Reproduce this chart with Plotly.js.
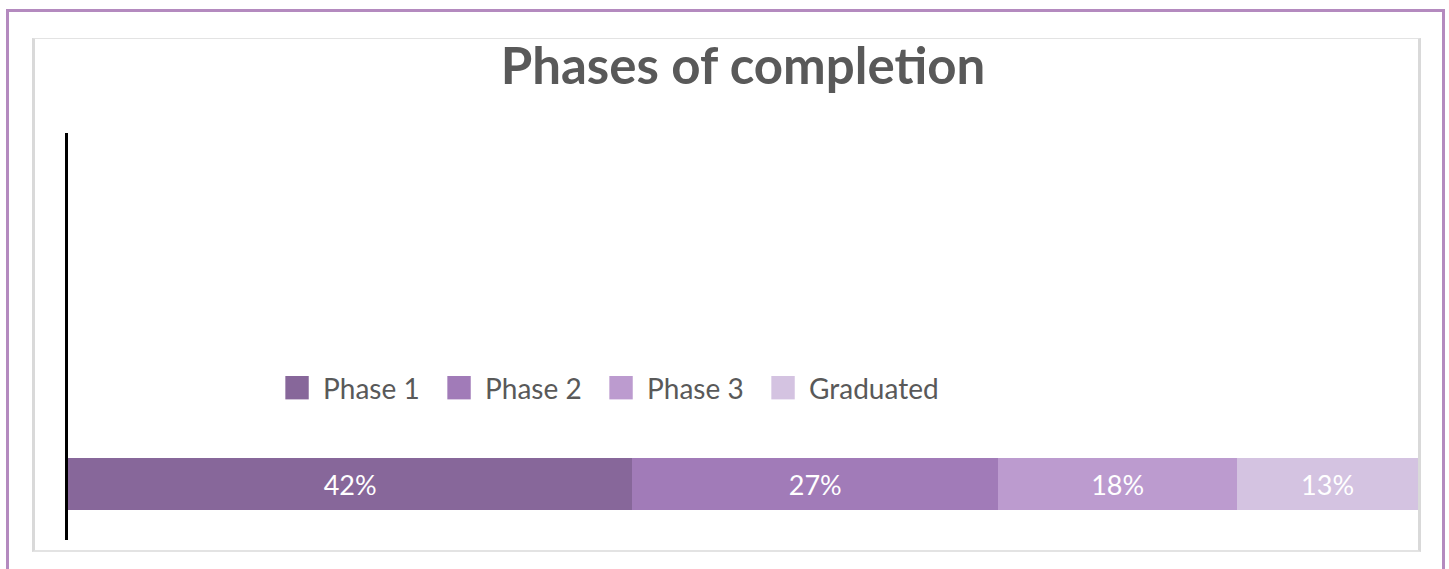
<!DOCTYPE html>
<html>
<head>
<meta charset="utf-8">
<script src="https://cdn.plot.ly/plotly-3.0.1.min.js"></script>
<style>
  html, body { margin: 0; padding: 0; background: #ffffff; overflow: hidden; }
  #wrap { position: relative; width: 1449px; height: 569px; }
  #chart { position: absolute; left: 0; top: 0; width: 1449px; height: 569px; }
  #outer { position: absolute; left: 6px; top: 9px; width: 1433px; height: 600px;
           border: 3px solid #b48abf; pointer-events: none; }
  #inner { position: absolute; left: 32px; top: 38px; width: 1383px; height: 511px;
           border-left: 3px solid #d9d9d9; border-right: 3px solid #d9d9d9;
           border-top: 1px solid #e3e3e3; border-bottom: 2px solid #e3e3e3; pointer-events: none; }
</style>
</head>
<body>
<div id="wrap">
  <div id="chart"></div>
  <div id="inner"></div>
  <div id="outer"></div>
</div>
<script>
// ---- data ----
const category = ["Completion"];
const seriesNames = ["Phase 1", "Phase 2", "Phase 3", "Graduated"];
const seriesValues = [0.418, 0.271, 0.177, 0.134];
const seriesColors = ["#87679a", "#a17bb8", "#bc9bcf", "#d4c3e1"];
const chartTitle = "Phases of completion";

const FONT = "Lato, 'Open Sans', sans-serif";

const traces = seriesNames.map((name, i) => ({
  type: "bar",
  orientation: "h",
  name: name,
  y: category,
  x: [seriesValues[i]],
  width: 0.5,
  marker: { color: seriesColors[i], line: { width: 0 } },
  texttemplate: "%{x:.0%}",
  textposition: "inside",
  insidetextanchor: "middle",
  textfont: { family: FONT, size: 27, color: "#ffffff" },
  hoverinfo: "name+x"
}));

const layout = {
  width: 1449,
  height: 569,
  margin: { l: 68, r: 31, t: 133, b: 29, pad: 0 },
  paper_bgcolor: "rgba(0,0,0,0)",
  plot_bgcolor: "rgba(0,0,0,0)",
  barmode: "stack",
  bargap: 0,
  showlegend: true,
  title: {
    text: "<b>" + chartTitle + "</b>",
    font: { family: FONT, size: 51, color: "#595959" },
    x: 0.5, xref: "paper", xanchor: "center",
    y: 63, yref: "container", yanchor: "middle"
  },
  xaxis: {
    range: [0, 1],
    showgrid: false, zeroline: false, showline: false,
    showticklabels: false, ticks: ""
  },
  yaxis: {
    type: "category",
    range: [-0.538, 3.375],
    showgrid: false, zeroline: false,
    showline: true, linecolor: "#000000", linewidth: 3,
    showticklabels: false, ticks: ""
  },
  legend: {
    orientation: "h",
    x: 0.3904, xanchor: "center",
    y: 0.3735, yanchor: "middle",
    traceorder: "normal",
    font: { family: FONT, size: 28, color: "#595959" },
    itemwidth: 42,
    entrywidth: 105,
    entrywidthmode: "pixels",
    bgcolor: "rgba(0,0,0,0)"
  }
};

Plotly.newPlot("chart", traces, layout, { displayModeBar: false, staticPlot: true }).then(() => {
  document.querySelectorAll("#chart .legendpoints path").forEach(p => {
    const t = p.getAttribute("transform") || "";
    p.setAttribute("transform", t + " scale(1.95)");
  });
  document.querySelectorAll("#chart .legend [clip-path]").forEach(e => e.removeAttribute("clip-path"));
});
</script>
</body>
</html>
